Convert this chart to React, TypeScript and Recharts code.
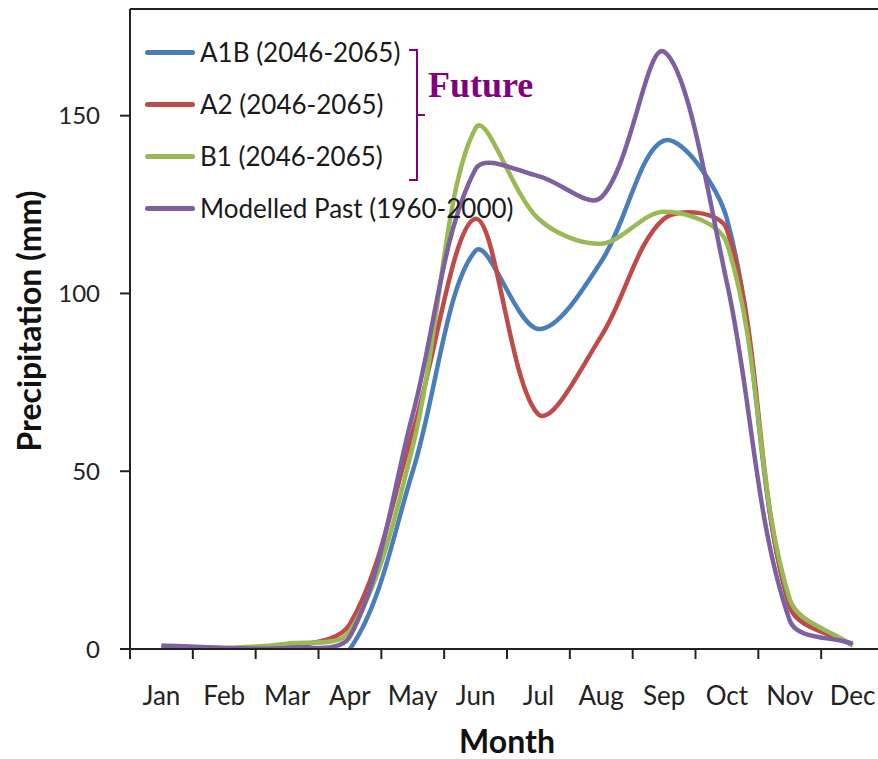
import React from "react";
import { LineChart, Line, XAxis, YAxis, ReferenceLine, Legend } from "recharts";

const months = ["Jan", "Feb", "Mar", "Apr", "May", "Jun", "Jul", "Aug", "Sep", "Oct", "Nov", "Dec"];
const a1b = [0.5, 0, 0, 0, 50, 112, 90, 109, 143, 121, 12, 1];
const a2 = [0.5, 0, 0.5, 7, 61, 121, 66, 88, 121, 118, 12, 1];
const b1 = [0.5, 0.3, 1.5, 5, 57, 146.5, 121, 114, 123, 114, 14, 1];
const past = [1, 0.3, 0.3, 3.5, 66, 135, 133, 127, 168, 103, 8, 1.5];
const yTicks = [0, 50, 100, 150];

const series = [
  { key: "a1b", name: "A1B (2046-2065)", color: "#4A7EBB" },
  { key: "a2", name: "A2 (2046-2065)", color: "#BE4B48" },
  { key: "b1", name: "B1 (2046-2065)", color: "#98B954" },
  { key: "past", name: "Modelled Past (1960-2000)", color: "#7D60A0" },
];

// months sit in the middle of each band, boundaries get the tick marks
const data = months.map((m, i) => ({
  month: m,
  pos: i + 0.5,
  a1b: a1b[i],
  a2: a2[i],
  b1: b1[i],
  past: past[i],
}));

const FONT = "Lato, 'Open Sans', sans-serif";

// Bezier smoothing through every point; control arms are split by
// chord length so short segments next to steep ones don't overshoot
function smoothCurve(context: any) {
  let pts: number[][] = [];
  const dist = (a: number[], b: number[]) => Math.hypot(b[0] - a[0], b[1] - a[1]) || 1;
  return {
    areaStart() {},
    areaEnd() {},
    lineStart() {
      pts = [];
    },
    lineEnd() {
      const n = pts.length;
      if (!n) return;
      const before: number[][] = [];
      const after: number[][] = [];
      for (let i = 0; i < n; i++) {
        const p0 = pts[Math.max(i - 1, 0)];
        const p1 = pts[i];
        const p2 = pts[Math.min(i + 1, n - 1)];
        const tx = p2[0] - p0[0];
        const ty = p2[1] - p0[1];
        const d0 = i > 0 ? dist(p0, p1) : 0;
        const d1 = i < n - 1 ? dist(p1, p2) : 0;
        const sum = d0 + d1 || 1;
        const a = (d0 / sum) / 3;
        const b = (d1 / sum) / 3;
        before.push([p1[0] - tx * a, p1[1] - ty * a]);
        after.push([p1[0] + tx * b, p1[1] + ty * b]);
      }
      context.moveTo(pts[0][0], pts[0][1]);
      for (let i = 0; i < n - 1; i++) {
        context.bezierCurveTo(
          after[i][0],
          after[i][1],
          before[i + 1][0],
          before[i + 1][1],
          pts[i + 1][0],
          pts[i + 1][1]
        );
      }
    },
    point(x: number, y: number) {
      pts.push([+x, +y]);
    },
  };
}

function LegendBox({ payload }: any) {
  const items = payload && payload.length ? payload : series.map((s) => ({ value: s.name, color: s.color }));
  return (
    <div style={{ position: "relative", width: 420, height: 200, fontFamily: FONT }}>
      {items.map((it: any, i: number) => (
        <div
          key={it.value}
          style={{ position: "absolute", left: 0, top: i * 52, height: 30, display: "flex", alignItems: "center" }}
        >
          <div style={{ width: 50, height: 5, borderRadius: 3, background: it.color }} />
          <span style={{ marginLeft: 5, fontSize: 26, color: "#1a1a1a", whiteSpace: "nowrap" }}>{it.value}</span>
        </div>
      ))}
      <svg style={{ position: "absolute", left: 0, top: 0 }} width={420} height={200}>
        <path
          d="M264 13 H272 V143 H264 M272 78 H280"
          fill="none"
          stroke="#800080"
          strokeWidth={2}
        />
        <text
          x={283}
          y={60}
          fill="#800080"
          fontFamily="'Liberation Serif', 'Times New Roman', serif"
          fontWeight="bold"
          fontSize={36}
        >
          Future
        </text>
      </svg>
    </div>
  );
}

export default function App() {
  return (
    <div
      style={{
        position: "fixed",
        left: 0,
        top: 0,
        width: 878,
        height: 759,
        overflow: "hidden",
        background: "#fff",
      }}
    >
      <LineChart
        width={890}
        height={759}
        data={data}
        margin={{ top: 9, right: 6, left: 60, bottom: 40 }}
      >
        <XAxis
          xAxisId="grid"
          dataKey="pos"
          type="number"
          domain={[0, 12]}
          ticks={[0, 1, 2, 3, 4, 5, 6, 7, 8, 9, 10, 11, 12]}
          tickFormatter={() => ""}
          tickSize={10}
          height={12}
          stroke="#222"
          strokeWidth={2}
        />
        <XAxis
          xAxisId="labels"
          dataKey="pos"
          type="number"
          domain={[0, 12]}
          ticks={data.map((d) => d.pos)}
          tickFormatter={(v: number) => months[Math.floor(v)]}
          axisLine={false}
          tickLine={false}
          tickSize={0}
          tickMargin={26}
          height={58}
          tick={{ fontSize: 26, fill: "#222", fontFamily: FONT }}
          label={{
            value: "Month",
            position: "insideBottom",
            offset: -34,
            style: { fontSize: 32, fontWeight: "bold", fill: "#111", fontFamily: FONT },
          }}
        />
        <YAxis
          type="number"
          domain={[0, 180]}
          ticks={yTicks}
          allowDataOverflow
          width={70}
          tickSize={10}
          tickMargin={20}
          stroke="#222"
          strokeWidth={2}
          tick={{ fontSize: 24, fill: "#222", fontFamily: FONT }}
          label={{
            value: "Precipitation (mm)",
            angle: -90,
            position: "insideLeft",
            offset: -30,
            dy: -8,
            style: { textAnchor: "middle", fontSize: 32, fontWeight: "bold", fill: "#111", fontFamily: FONT },
          }}
        />
        <ReferenceLine xAxisId="grid" y={180} stroke="#222" strokeWidth={2} />
        <Legend
          layout="vertical"
          align="center"
          verticalAlign="middle"
          content={<LegendBox />}
          wrapperStyle={{ top: 37, left: 145, width: 420 }}
        />
        {series.map((s) => (
          <Line
            key={s.key}
            xAxisId="grid"
            dataKey={s.key}
            name={s.name}
            type={smoothCurve as any}
            stroke={s.color}
            strokeWidth={4.5}
            dot={false}
            activeDot={false}
            isAnimationActive={false}
          />
        ))}
      </LineChart>
    </div>
  );
}
